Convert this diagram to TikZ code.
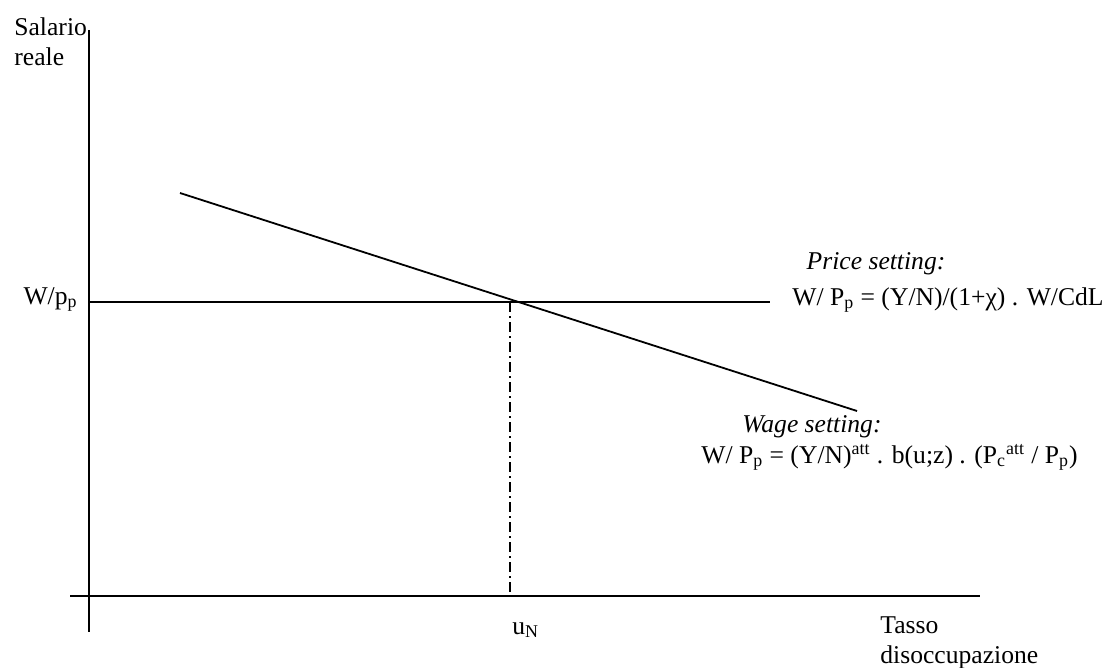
\documentclass[tikz,border=0pt]{standalone}
\usepackage{fontspec}
\setmainfont{Liberation Serif}
\usetikzlibrary{positioning}

\begin{document}
\begin{tikzpicture}[
  x=0.5pt, y=-0.5pt,
  axis/.style={line width=0.9pt},
  curve/.style={line width=0.9pt},
  guide/.style={line width=0.8pt, dash pattern=on 5pt off 2pt on 1pt off 2pt},
  lbl/.style={inner sep=0pt, font=\fontsize{12.8}{15}\selectfont}
]
\useasboundingbox (0,0) rectangle (1107,668);

% axes and curves
\coordinate (yTop) at (89,30);
\coordinate (yBot) at (89,632);
\coordinate (xLeft) at (70,596);
\coordinate (xRight) at (980,596);
\coordinate (psStart) at (89,302);
\coordinate (psEnd) at (770,302);
\coordinate (wsStart) at (180,193);
\coordinate (wsEnd) at (857,411);
\coordinate (eq) at (510,302);
\coordinate (eqBase) at (510,596);

\draw[axis] (yTop) -- (yBot);
\draw[axis] (xLeft) -- (xRight);
\draw[curve] (psStart) -- (psEnd);
\draw[curve] (wsStart) -- (wsEnd);
\draw[guide] (eq) -- (eqBase);

% labels
\node[lbl, anchor=north west, align=left] (ylab) at (14,17) {Salario\\reale};
\node[lbl, anchor=north west, align=left] (xlab) at (880,616) {Tasso\\disoccupazione};
\node[lbl, anchor=base east] (wpp) at (78,304) {W/p\textsubscript{p}};
\node[lbl, anchor=base west] (uN) at (512,634) {u\textsubscript{N}};
\node[lbl, anchor=base] (pstitle) at (876,270) {\textit{Price setting:}};
\node[lbl, anchor=base west] (pseq) at (792,305)
  {W/ P\textsubscript{p} = (Y/N)/(1+χ) . W/CdL};
\node[lbl, anchor=base west] (wstitle) at (742,432) {\textit{Wage setting:}};
\node[lbl, anchor=base west] (wseq) at (701,463)
  {W/ P\textsubscript{p} = (Y/N)\textsuperscript{att} . b(u;z) .
   (P\textsubscript{c}\textsuperscript{att} / P\textsubscript{p})};

\end{tikzpicture}
\end{document}
